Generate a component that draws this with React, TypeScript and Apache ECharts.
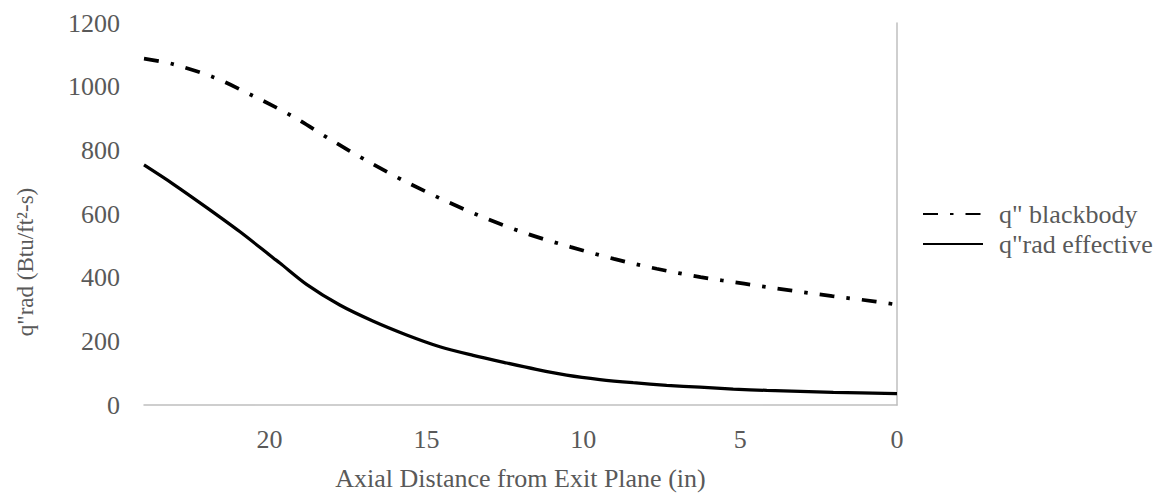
import React, { useEffect, useRef } from "react";
import * as echarts from "echarts";

const seriesNames = ["q\" blackbody", "q\"rad effective"];

const blackbodyX = [24, 23.12, 21.77, 20.5, 19.25, 18.06, 16.84, 15.61, 14.34, 13.05, 11.73, 10.39, 9.02, 7.66, 6.26, 4.87, 3.46, 2.06, 0.67, 0];
const blackbodyY = [1088, 1072, 1029, 970, 906, 834, 764, 699, 639, 584, 536, 496, 459, 428, 402, 381, 361, 342, 325, 315];

const effectiveX = [24, 23.07, 22.0, 20.94, 19.88, 19.67, 18.82, 17.76, 16.69, 15.63, 14.57, 13.51, 12.44, 11.5, 10.53, 9.47, 8.41, 7.34, 6.28, 5.22, 4.15, 3.09, 2.03, 0];
const effectiveY = [754, 694, 620, 544, 462, 446, 379, 314, 263, 220, 183, 156, 132, 112, 94, 80, 70, 62, 56, 50, 46, 43, 40, 36];

const xTicks = { min: 0, max: 24, interval: 5 };
const yTicks = { min: 0, max: 1200, interval: 200 };

const axisTitleX = "Axial Distance from Exit Plane (in)";
const axisTitleY = "q\"rad (Btu/ft²-s)";

const FONT = "Liberation Serif";
const GREY = "#595959";

export default function App() {
  const ref = useRef<HTMLDivElement>(null);
  useEffect(() => {
    document.body.style.margin = "0";
    const chart = echarts.init(ref.current!, undefined, { renderer: "svg" });
    const bb = blackbodyX.map((x, i) => [x, blackbodyY[i]]);
    const ef = effectiveX.map((x, i) => [x, effectiveY[i]]);
    chart.setOption({
      animation: false,
      backgroundColor: "#ffffff",
      textStyle: { fontFamily: FONT },
      grid: { left: 144, right: 267, top: 23, bottom: 85 },
      legend: {
        orient: "vertical",
        left: 922,
        top: 201,
        padding: 0,
        itemWidth: 60,
        itemHeight: 14,
        itemGap: 4,
        itemStyle: { opacity: 0, borderWidth: 0 },
        textStyle: { fontFamily: FONT, fontSize: 26, lineHeight: 22, color: GREY, padding: [0, 0, 0, 11] },
        data: seriesNames,
      },
      xAxis: {
        type: "value",
        inverse: true,
        min: xTicks.min,
        max: xTicks.max,
        interval: xTicks.interval,
        name: axisTitleX,
        nameLocation: "middle",
        nameGap: 60,
        nameTextStyle: { fontFamily: FONT, fontSize: 26, color: GREY },
        axisLine: { show: true, onZero: false, lineStyle: { color: "#bfbfbf", width: 1.5 } },
        axisTick: { show: false },
        splitLine: { show: false },
        axisLabel: { fontFamily: FONT, fontSize: 26, color: GREY, margin: 21, showMaxLabel: false },
      },
      yAxis: [
        {
          type: "value",
          min: yTicks.min,
          max: yTicks.max,
          interval: yTicks.interval,
          position: "left",
          axisLine: { show: false },
          axisTick: { show: false },
          splitLine: { show: false },
          axisLabel: { fontFamily: FONT, fontSize: 26, color: GREY, margin: 24, formatter: (v: number) => String(v) },
        },
        {
          type: "value",
          min: yTicks.min,
          max: yTicks.max,
          interval: yTicks.interval,
          position: "right",
          axisLine: { show: true, lineStyle: { color: "#bfbfbf", width: 1.5 } },
          axisTick: { show: false },
          splitLine: { show: false },
          axisLabel: { show: false },
        },
      ],
      graphic: [
        {
          type: "text",
          x: 25,
          y: 262,
          rotation: Math.PI / 2,
          style: {
            text: axisTitleY,
            fontFamily: FONT,
            fontSize: 23,
            fill: GREY,
            align: "center",
            verticalAlign: "middle",
          },
        },
      ],
      series: [
        {
          name: seriesNames[0],
          type: "line",
          data: bb,
          smooth: 0.3,
          symbol: "none",
          lineStyle: { color: "#000000", width: 3.75, type: [15, 12, 3.5, 12], cap: "butt" },
          itemStyle: { color: "#000000" },
        },
        {
          name: seriesNames[1],
          type: "line",
          data: ef,
          smooth: 0.3,
          symbol: "none",
          lineStyle: { color: "#000000", width: 3.25, type: "solid" },
          itemStyle: { color: "#000000" },
        },
      ],
    });
    return () => chart.dispose();
  }, []);
  return <div ref={ref} style={{ width: 1164, height: 496, position: "absolute", left: 0, top: 0 }} />;
}
